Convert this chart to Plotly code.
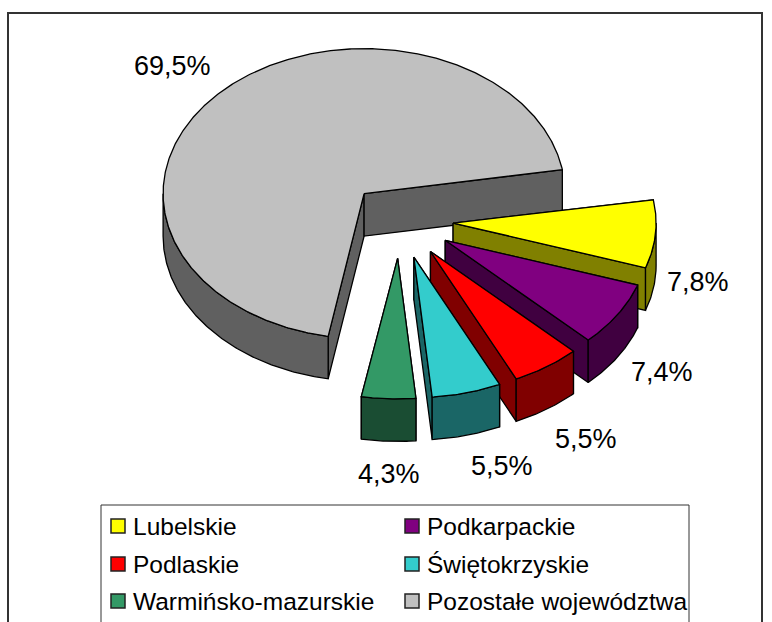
import numpy as np
import plotly.graph_objects as go

# --- data ---
categories = ["Lubelskie", "Podkarpackie", "Podlaskie", "Świętokrzyskie",
              "Warmińsko-mazurskie", "Pozostałe województwa"]
values = [7.8, 7.4, 5.5, 5.5, 4.3, 69.5]
value_labels = ["7,8%", "7,4%", "5,5%", "5,5%", "4,3%", "69,5%"]

# --- styles ---
top_colors = ["#FFFF00", "#800080", "#FF0000", "#33CCCC", "#339966", "#C0C0C0"]
side_colors = ["#808000", "#400040", "#800000", "#1A6666", "#1A4D33", "#606060"]

# --- layout geometry (pixels) ---
W, H = 772, 622
CX, CY = 401.5, 221.0
RX, RY = 201.0, 145.0          # radii of the large slice and of the explosion
SLICE_RX, SLICE_RY = 203.0, 140.5  # radii of the small exploded slices
SLICE_DX, SLICE_DY = -1.5, -1.0    # small nudge of the exploded slices
DEPTH = 42.5
EXPLODE = 0.265
START_ANGLE = -9.5  # clockwise from east, degrees
label_xy = [(698, 282), (662, 372), (586, 439), (502, 466), (389, 474), (172, 66)]
legend_xy = [(118, 526), (412, 526), (118, 564), (412, 564), (118, 601), (412, 601)]
LABEL_FONT = 27
LEGEND_FONT = 24.5


def rim(apex, deg, rx, ry):
    t = np.radians(deg)
    return apex[0] + rx * np.cos(t), apex[1] + ry * np.sin(t)


def arc(apex, a0, a1, rx, ry):
    n = max(2, int(abs(a1 - a0)) * 2 + 1)
    return [rim(apex, d, rx, ry) for d in np.linspace(a0, a1, n)]


def poly(points, color, name):
    xs = [p[0] for p in points] + [points[0][0]]
    ys = [p[1] for p in points] + [points[0][1]]
    return go.Scatter(x=xs, y=ys, mode="lines", fill="toself", fillcolor=color,
                      line=dict(color="black", width=1.3), hoverinfo="skip",
                      showlegend=False, name=name)


def shifted(points):
    return [(x, y + DEPTH) for x, y in points]


fig = go.Figure()

# main slice is painted first, then the others from the back to the front
order = [5, 0, 1, 2, 3, 4]
total = sum(values)
angles = {}
a = START_ANGLE
for i in range(len(values)):
    span = values[i] / total * 360
    angles[i] = (a, a + span)
    a += span

for i in order:
    a0, a1 = angles[i]
    main = i == 5
    rx, ry = (RX, RY) if main else (SLICE_RX, SLICE_RY)
    mid = np.radians((a0 + a1) / 2)
    apex = (CX + EXPLODE * RX * np.cos(mid) + (0 if main else SLICE_DX),
            CY + EXPLODE * RY * np.sin(mid) + (0 if main else SLICE_DY))
    # radial cut faces
    for edge in (a0, a1):
        p = rim(apex, edge, rx, ry)
        face = [apex, p, (p[0], p[1] + DEPTH), (apex[0], apex[1] + DEPTH)]
        fig.add_trace(poly(face, side_colors[i], categories[i]))
    # outer wall: the part of the rim that faces the viewer
    w0, w1 = max(a0, 0), min(a1, 180)
    if w1 > w0:
        wall = arc(apex, w0, w1, rx, ry)
        fig.add_trace(poly(wall + shifted(wall)[::-1], side_colors[i], categories[i]))
    # top
    fig.add_trace(poly([apex] + arc(apex, a0, a1, rx, ry), top_colors[i], categories[i]))

# legend swatches and their labels
for i, (x, y) in enumerate(legend_xy):
    fig.add_trace(go.Scatter(
        x=[x], y=[y], mode="markers", showlegend=False, hoverinfo="skip",
        marker=dict(symbol="square", size=14, color=top_colors[i],
                    line=dict(color="#222222", width=1.5))))
    fig.add_annotation(x=x + 13, y=y, text=categories[i], showarrow=False,
                       xanchor="left", yanchor="middle",
                       font=dict(family="Liberation Sans", size=LEGEND_FONT, color="black"))

for i, (x, y) in enumerate(label_xy):
    fig.add_annotation(x=x, y=y, text=value_labels[i], showarrow=False,
                       xanchor="center", yanchor="middle",
                       font=dict(family="Liberation Sans", size=LABEL_FONT, color="black"))

# chart frame and legend frame, both run off the bottom of the picture
fig.add_shape(type="rect", x0=8, y0=13, x1=762, y1=640,
              line=dict(color="#333333", width=2), fillcolor="rgba(0,0,0,0)", layer="below")
fig.add_shape(type="rect", x0=101, y0=505, x1=689, y1=640,
              line=dict(color="#333333", width=1), fillcolor="white", layer="below")

fig.update_layout(
    width=W, height=H, margin=dict(l=0, r=0, t=0, b=0),
    paper_bgcolor="white", plot_bgcolor="white", showlegend=False,
    xaxis=dict(range=[0, W], visible=False, fixedrange=True),
    yaxis=dict(range=[H, 0], visible=False, fixedrange=True),
)
fig.write_html("out.html", config={"displayModeBar": False},
               post_script="document.body.style.margin='0';document.documentElement.style.overflow='hidden';")
